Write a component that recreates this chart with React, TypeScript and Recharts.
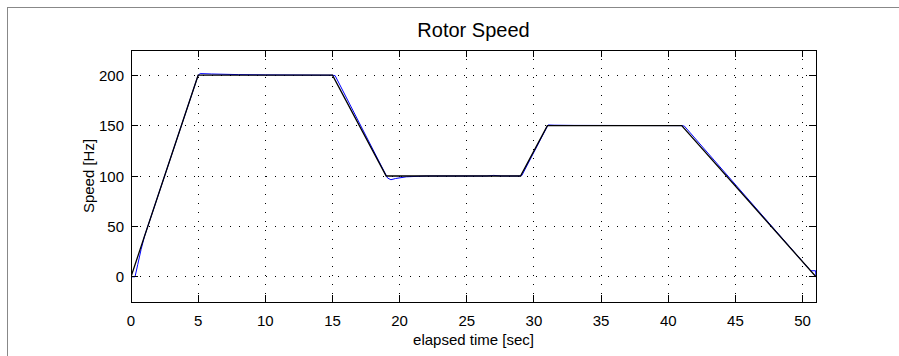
import React from 'react';
import { LineChart, Line, XAxis, YAxis, CartesianGrid, Customized, ReferenceArea, ReferenceLine } from 'recharts';

const refTime = [0, 5, 15, 19, 29, 31, 41, 51];
const refSpeed = [0, 200, 200, 100, 100, 150, 150, 0];

const measTime = [0, 0.3, 0.5, 0.75, 1, 5, 5.15, 6, 8, 10, 15, 15.2, 19.1, 19.35, 19.7, 20.5, 22, 26.5, 27, 27.6, 29, 29.1, 31.05, 31.5, 33, 41, 41.2, 50.6, 50.97, 51];
const measSpeed = [0, 0, 12, 27, 40, 200, 201.6, 201.2, 200.6, 200.3, 200, 199.5, 98, 96.3, 97.5, 99.2, 100, 100, 100.6, 100, 100, 100.5, 150.6, 150.4, 150.2, 150, 149.5, 6, 6, 0];

const xTicks = [0, 5, 10, 15, 20, 25, 30, 35, 40, 45, 50];
const yTicks = [0, 50, 100, 150, 200];
const xDomain = [0, 51];
const yDomain = [-25, 225];

const title = 'Rotor Speed';
const xLabel = 'elapsed time [sec]';
const yLabel = 'Speed [Hz]';

const refData = refTime.map((t, i) => ({ t, v: refSpeed[i] }));
const measData = measTime.map((t, i) => ({ t, v: measSpeed[i] }));

const FONT = '"Liberation Sans", Arial, Helvetica, sans-serif';
const TL = 7;

const BottomTick = (p: any) => (
  <text x={p.x} y={p.y + 24} textAnchor="middle" fontSize={15} fontFamily={FONT} fill="#000">
    {p.payload.value}
  </text>
);
const LeftTick = (p: any) => (
  <text x={p.x - 7} y={p.y + 5.5} textAnchor="end" fontSize={15} fontFamily={FONT} fill="#000">
    {p.payload.value}
  </text>
);

const VTicks = (p: any) => {
  const top = Math.min(p.y1, p.y2);
  const bot = Math.max(p.y1, p.y2);
  return (
    <g stroke="#000" strokeWidth={1} shapeRendering="crispEdges">
      <line x1={p.x1} y1={top} x2={p.x1} y2={top + TL} />
      <line x1={p.x1} y1={bot} x2={p.x1} y2={bot - TL} />
    </g>
  );
};
const HTicks = (p: any) => {
  const l = Math.min(p.x1, p.x2);
  const r = Math.max(p.x1, p.x2);
  return (
    <g stroke="#000" strokeWidth={1} shapeRendering="crispEdges">
      <line x1={l} y1={p.y1} x2={l + TL} y2={p.y1} />
      <line x1={r} y1={p.y1} x2={r - TL} y2={p.y1} />
    </g>
  );
};

const Labels = () => (
  <g fontFamily={FONT} fill="#000">
    <text x={465.5} y={28.7} textAnchor="middle" fontSize={20}>{title}</text>
    <text x={465.5} y={337} textAnchor="middle" fontSize={15}>{xLabel}</text>
    <text x={80} y={168} textAnchor="middle" dominantBaseline="central" fontSize={15} transform="rotate(-90 80 168)">{yLabel}</text>
  </g>
);

export default function App() {
  return (
    <div style={{ position: 'absolute', left: 7, top: 7, width: 892, height: 349, borderLeft: '1px solid #888', borderTop: '1px solid #888', background: '#fff' }}>
      <LineChart width={891} height={348} margin={{ top: 42, right: 83, bottom: 0, left: 0 }}>
        <CartesianGrid stroke="#000" strokeDasharray="1 8" fill="none" shapeRendering="crispEdges" />
        <XAxis type="number" dataKey="t" domain={xDomain} ticks={xTicks} interval={0} allowDataOverflow height={54}
          axisLine={{ stroke: '#000', shapeRendering: 'crispEdges' }} tickLine={false} tickSize={0} tickMargin={0} tick={<BottomTick />} />
        <YAxis type="number" domain={yDomain} ticks={yTicks} interval={0} allowDataOverflow width={123}
          axisLine={{ stroke: '#000', shapeRendering: 'crispEdges' }} tickLine={false} tickSize={0} tickMargin={0} tick={<LeftTick />} />
        <Line data={measData} dataKey="v" type="linear" stroke="#0000ff" strokeWidth={1} dot={false} isAnimationActive={false} />
        <Line data={refData} dataKey="v" type="linear" stroke="#000" strokeWidth={1.3} dot={false} isAnimationActive={false} />
        <ReferenceArea x1={xDomain[0]} x2={xDomain[1]} y1={yDomain[0]} y2={yDomain[1]} fill="none" fillOpacity={0} stroke="#000" strokeWidth={1} shapeRendering="crispEdges" ifOverflow="visible" />
        {xTicks.map((t) => (
          <ReferenceLine key={'x' + t} x={t} stroke="#000" shape={VTicks} ifOverflow="visible" />
        ))}
        {yTicks.map((v) => (
          <ReferenceLine key={'y' + v} y={v} stroke="#000" shape={HTicks} ifOverflow="visible" />
        ))}
        <Customized component={Labels} />
      </LineChart>
    </div>
  );
}
